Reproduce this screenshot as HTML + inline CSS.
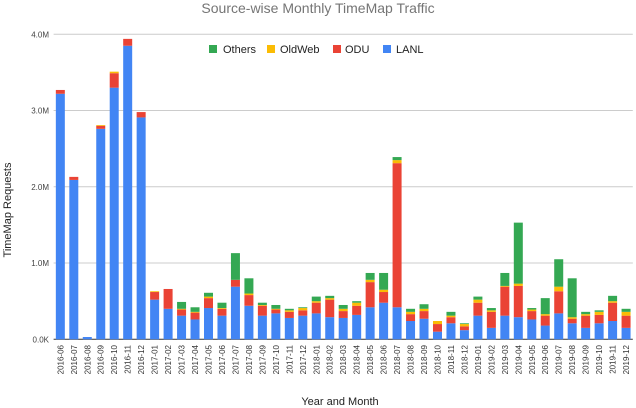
<!DOCTYPE html>
<html><head><meta charset="utf-8"><style>
body{margin:0;background:#fff;}
svg{display:block;font-family:"Liberation Sans",sans-serif;}
</style></head><body>
<svg id="c" width="636" height="408">
<text x="318" y="13" text-anchor="middle" font-size="14" fill="#757575">Source-wise Monthly TimeMap Traffic</text>
<text transform="translate(11,210) rotate(-90)" text-anchor="middle" font-size="11" fill="#222">TimeMap Requests</text>
<text x="340" y="405" text-anchor="middle" font-size="11" fill="#222">Year and Month</text>
<g id="grid"></g><g id="bars"></g><g id="xl"></g>
<g font-size="11" fill="#222">
<g><rect x="209" y="45" width="8" height="8" fill="#34a853"/><text x="223" y="53">Others</text></g>
<g><rect x="267" y="45" width="8" height="8" fill="#fbbc04"/><text x="280" y="53">OldWeb</text></g>
<g><rect x="333" y="45" width="8" height="8" fill="#ea4335"/><text x="345" y="53">ODU</text></g>
<g><rect x="383" y="45" width="8" height="8" fill="#4285f4"/><text x="396" y="53">LANL</text></g>
</g>
</svg>
<script>
const months=["2016-06","2016-07","2016-08","2016-09","2016-10","2016-11","2016-12","2017-01","2017-02","2017-03","2017-04","2017-05","2017-06","2017-07","2017-08","2017-09","2017-10","2017-11","2017-12","2018-01","2018-02","2018-03","2018-04","2018-05","2018-06","2018-07","2018-08","2018-09","2018-10","2018-11","2018-12","2019-01","2019-02","2019-03","2019-04","2019-05","2019-06","2019-07","2019-08","2019-09","2019-10","2019-11","2019-12"];
const lanl=[3.22,2.09,.03,2.76,3.30,3.85,2.91,.52,.40,.31,.26,.41,.31,.69,.44,.31,.34,.28,.31,.34,.29,.28,.32,.42,.48,.42,.24,.27,.10,.21,.12,.31,.15,.31,.29,.26,.18,.34,.21,.15,.21,.24,.15];
const odu=[.05,.04,0,.04,.19,.09,.07,.10,.26,.08,.09,.13,.09,.09,.14,.13,.05,.08,.07,.14,.23,.09,.12,.33,.14,1.89,.09,.10,.10,.08,.05,.17,.21,.38,.41,.11,.13,.29,.06,.16,.11,.24,.16];
const oldweb=[0,0,0,.01,.02,0,0,.01,0,.01,.01,.02,.01,0,.02,.01,.01,.02,.03,.02,.02,.03,.04,.03,.03,.04,.03,.03,.04,.02,.03,.04,.02,.01,.03,.02,.02,.06,.02,.02,.04,.02,.05];
const others=[0,0,0,0,0,0,0,0,0,.09,.06,.05,.07,.35,.20,.03,.05,.02,.01,.06,.03,.05,.02,.09,.22,.04,.04,.06,0,.05,.01,.04,.03,.17,.80,.02,.21,.36,.51,.03,.02,.07,.04];
const yTicks=[0,1,2,3,4];
const yTickLabels=["0.0K","1.0M","2.0M","3.0M","4.0M"];
const NS="http://www.w3.org/2000/svg";
const X0=53.6,X1=632.8,Y0=339.3,YT=34.3,YMAX=4;
const step=(X1-X0)/months.length;
const y=v=>Y0-(v/YMAX)*(Y0-YT);
const xc=i=>X0+step*(i+0.5);
function mk(t,a,p){const e=document.createElementNS(NS,t);for(const k in a)e.setAttribute(k,a[k]);p.appendChild(e);return e;}
const grid=document.getElementById('grid');
yTicks.forEach((t,i)=>{
 const l=mk('line',{x1:X0,x2:X1,y1:y(t),y2:y(t),stroke:i==0?'#333':'#ccc','stroke-width':1},grid);
 
 
 const tx=mk('text',{x:49,y:y(t)+3,'text-anchor':'end','font-size':8,fill:'#444'},grid);
 tx.textContent=yTickLabels[i];
 
 
});
const bars=document.getElementById('bars');
const series=[[lanl,'#4285f4','lanl'],[odu,'#ea4335','odu'],[oldweb,'#fbbc04','oldweb'],[others,'#34a853','others']];
const bw=9;
months.forEach((m,i)=>{
 let base=0;
 series.forEach(([arr,col,nm])=>{
  const v=arr[i];
  if(v>0){
   const r=mk('rect',{x:xc(i)-bw/2,y:y(base+v),width:bw,height:y(base)-y(base+v),fill:col},bars);
   
   
  }
  base+=v;
 });
});
const xl=document.getElementById('xl');
months.forEach((m,i)=>{
 const t=mk('text',{transform:`translate(${xc(i)+3},345) rotate(-90)`,'text-anchor':'end','font-size':8,fill:'#333'},xl);
 t.textContent=m;
 
 
});
document.getElementById('grid').appendChild(grid.firstChild);
</script>
</body></html>
